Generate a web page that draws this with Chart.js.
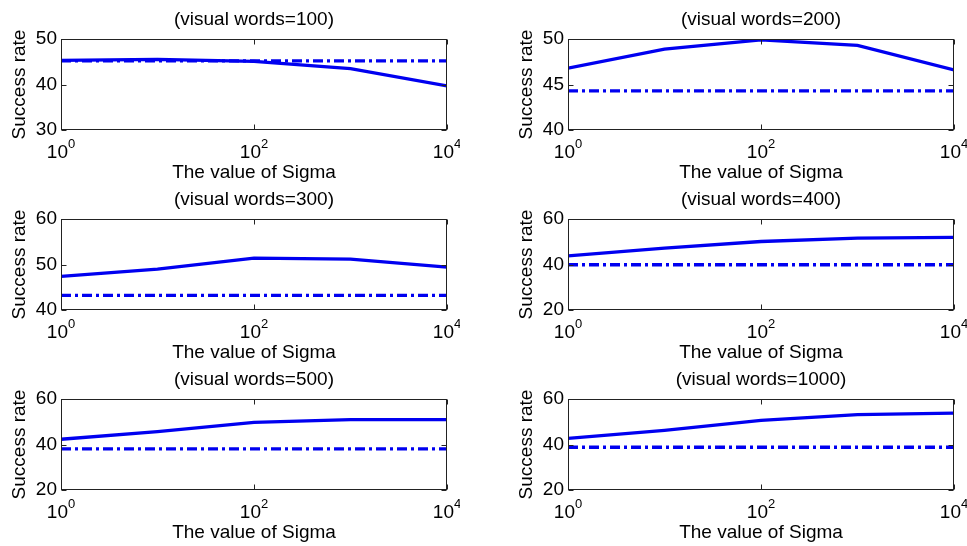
<!DOCTYPE html>
<html>
<head>
<meta charset="utf-8">
<script src="https://cdn.jsdelivr.net/npm/chart.js@4/dist/chart.umd.min.js"></script>
<style>
  html, body { margin: 0; padding: 0; background: #ffffff; overflow: hidden; }
  body { width: 967px; height: 546px; position: relative; }
  .cell { position: absolute; width: 460px; height: 190px; }
</style>
</head>
<body>
<div class="cell" style="left:0px;top:0px"><canvas id="c0"></canvas></div>
<div class="cell" style="left:507px;top:0px"><canvas id="c1"></canvas></div>
<div class="cell" style="left:0px;top:180px"><canvas id="c2"></canvas></div>
<div class="cell" style="left:507px;top:180px"><canvas id="c3"></canvas></div>
<div class="cell" style="left:0px;top:360px"><canvas id="c4"></canvas></div>
<div class="cell" style="left:507px;top:360px"><canvas id="c5"></canvas></div>
<script>
// ---- data ----
const panelTitles = ['(visual words=100)', '(visual words=200)', '(visual words=300)',
                     '(visual words=400)', '(visual words=500)', '(visual words=1000)'];
const sigmaValues = [1, 10, 100, 1000, 10000];
const xTickValues = [1, 100, 10000];
const xTickBase = '10';
const xTickExponents = ['0', '2', '4'];
const xAxisTitle = 'The value of Sigma';
const yAxisTitle = 'Success rate';

const solid100  = [45.3, 45.5, 45.1, 43.5, 39.7];
const dashed100 = [45.2, 45.2, 45.2, 45.2, 45.2];
const solid200  = [46.8, 48.9, 49.9, 49.3, 46.6];
const dashed200 = [44.3, 44.3, 44.3, 44.3, 44.3];
const solid300  = [47.4, 49.0, 51.4, 51.2, 49.4];
const dashed300 = [43.2, 43.2, 43.2, 43.2, 43.2];
const solid400  = [43.8, 47.2, 50.1, 51.6, 51.9];
const dashed400 = [39.9, 39.9, 39.9, 39.9, 39.9];
const solid500  = [42.3, 45.7, 49.7, 50.9, 50.9];
const dashed500 = [38.1, 38.1, 38.1, 38.1, 38.1];
const solid1000 = [42.7, 46.2, 50.6, 53.1, 53.8];
const dashed1000= [38.8, 38.8, 38.8, 38.8, 38.8];

const yTicks100 = [30, 40, 50];
const yTicks200 = [40, 45, 50];
const yTicks300 = [40, 50, 60];
const yTicks400 = [20, 40, 60];
const yTicks500 = [20, 40, 60];
const yTicks1000= [20, 40, 60];

const panelSolid  = [solid100, solid200, solid300, solid400, solid500, solid1000];
const panelDashed = [dashed100, dashed200, dashed300, dashed400, dashed500, dashed1000];
const panelYTicks = [yTicks100, yTicks200, yTicks300, yTicks400, yTicks500, yTicks1000];

// ---- styling ----
const FONT = "'Liberation Sans', Arial, sans-serif";
const LINE_BLUE = '#0000f0';

const boxAndTicks = {
  id: 'boxAndTicks',
  afterDatasetsDraw(chart) {
    const ctx = chart.ctx;
    const a = chart.chartArea;
    const xs = chart.scales.x, ys = chart.scales.y;
    const L = Math.round(a.left) + 0.5, R = Math.round(a.right) - 0.5;
    const T = Math.round(a.top) + 0.5, B = Math.round(a.bottom) - 0.5;
    ctx.save();
    ctx.strokeStyle = '#222222';
    ctx.lineWidth = 1;
    ctx.strokeRect(L, T, R - L, B - T);
    const len = 5;
    ctx.beginPath();
    xs.ticks.forEach(t => {
      const px = Math.round(xs.getPixelForValue(t.value)) + 0.5;
      ctx.moveTo(px, B); ctx.lineTo(px, B - len);
      ctx.moveTo(px, T); ctx.lineTo(px, T + len);
    });
    ys.ticks.forEach(t => {
      const py = Math.round(ys.getPixelForValue(t.value)) + 0.5;
      ctx.moveTo(L, py); ctx.lineTo(L + len, py);
      ctx.moveTo(R, py); ctx.lineTo(R - len, py);
    });
    ctx.stroke();

    // x tick labels "10" with superscript exponent, placed through the x scale
    const baseFont = '19px ' + FONT;
    const expFont = '13px ' + FONT;
    ctx.fillStyle = '#000000';
    ctx.textAlign = 'left';
    ctx.textBaseline = 'alphabetic';
    xs.ticks.forEach((t, idx) => {
      const px = xs.getPixelForValue(t.value);
      ctx.font = baseFont;
      const wb = ctx.measureText(xTickBase).width;
      ctx.font = expFont;
      const we = ctx.measureText(xTickExponents[idx]).width;
      const x0 = px - (wb + we) / 2;
      const yBase = a.bottom + 28;
      ctx.font = baseFont;
      ctx.fillText(xTickBase, x0, yBase);
      ctx.font = expFont;
      ctx.fillText(xTickExponents[idx], x0 + wb, yBase - 10);
    });
    ctx.restore();
  }
};

function makePanel(i) {
  const yt = panelYTicks[i];
  const ctx = document.getElementById('c' + i);
  return new Chart(ctx, {
    type: 'line',
    data: {
      datasets: [
        {
          data: sigmaValues.map((s, k) => ({ x: s, y: panelSolid[i][k] })),
          borderColor: LINE_BLUE,
          borderWidth: 3.3,
          pointRadius: 0,
          tension: 0,
          fill: false
        },
        {
          data: sigmaValues.map((s, k) => ({ x: s, y: panelDashed[i][k] })),
          borderColor: LINE_BLUE,
          borderWidth: 3.3,
          borderDash: [10, 4, 3, 4],
          pointRadius: 0,
          tension: 0,
          fill: false
        }
      ]
    },
    options: {
      responsive: true,
      maintainAspectRatio: false,
      animation: false,
      devicePixelRatio: 1,
      layout: { padding: { left: 0, right: 13, top: 0, bottom: 0 } },
      plugins: {
        legend: { display: false },
        tooltip: { enabled: false },
        title: {
          display: true,
          text: panelTitles[i],
          color: '#000000',
          fullSize: false,
          font: { family: FONT, size: 19, weight: 'normal', lineHeight: 1.2 },
          padding: { top: 8.6, bottom: 7.6 }
        }
      },
      scales: {
        x: {
          type: 'logarithmic',
          min: xTickValues[0],
          max: xTickValues[xTickValues.length - 1],
          grid: { display: false, drawTicks: false },
          border: { display: false },
          afterBuildTicks: (scale) => { scale.ticks = xTickValues.map(v => ({ value: v })); },
          afterFit: (scale) => { scale.height = 60; scale.paddingLeft = 0; scale.paddingRight = 0; },
          ticks: {
            display: false,
            autoSkip: false,
            maxRotation: 0,
            minRotation: 0
          },
          title: {
            display: true,
            text: xAxisTitle,
            color: '#000000',
            font: { family: FONT, size: 19, lineHeight: 1.2 },
            padding: { top: 0, bottom: 5.6 }
          }
        },
        y: {
          type: 'linear',
          min: yt[0],
          max: yt[yt.length - 1],
          grid: { display: false, drawTicks: false },
          border: { display: false },
          afterBuildTicks: (scale) => { scale.ticks = yt.map(v => ({ value: v })); },
          afterFit: (scale) => { scale.width = 61; scale.paddingTop = 0; scale.paddingBottom = 0; },
          ticks: {
            padding: 4,
            color: '#000000',
            font: { family: FONT, size: 19, lineHeight: 1.2 },
            callback: (v) => String(v)
          },
          title: {
            display: true,
            text: yAxisTitle,
            color: '#000000',
            font: { family: FONT, size: 19, lineHeight: 1.2 },
            padding: { top: 8.6, bottom: 0 }
          }
        }
      }
    },
    plugins: [boxAndTicks]
  });
}

for (let i = 0; i < 6; i++) makePanel(i);
</script>
</body>
</html>
